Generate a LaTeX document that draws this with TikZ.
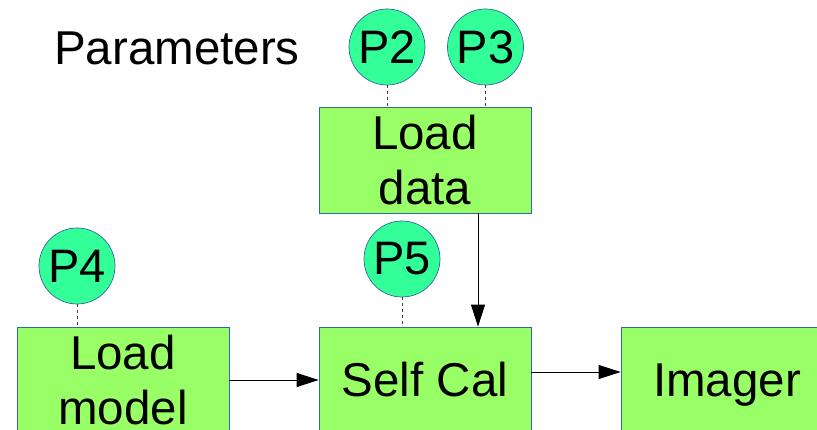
\documentclass[tikz,border=0pt]{standalone}
\usepackage{fontspec}
\setmainfont{Liberation Sans}
\usetikzlibrary{arrows.meta}
\definecolor{boxgreen}{HTML}{99FF66}
\definecolor{parmgreen}{HTML}{33FF99}
\definecolor{edgeblue}{HTML}{3465A4}
\tikzset{
  stage/.style={rectangle, draw=edgeblue, line width=0.7pt, fill=boxgreen,
    minimum width=212pt, minimum height=106pt, inner sep=0pt, align=center,
    font=\fontsize{47.5}{55}\selectfont},
  param/.style={circle, draw=edgeblue, line width=0.7pt, fill=parmgreen,
    minimum size=76pt, inner sep=0pt, font=\fontsize{47}{55}\selectfont},
  link/.style={dash pattern=on 3pt off 3pt, line width=0.8pt, draw=black!75},
  flow/.style={line width=0.9pt, -{Triangle[length=22pt,width=14pt]}}
}
\begin{document}
\begin{tikzpicture}[x=1pt,y=-1pt]
\useasboundingbox (0,0) rectangle (817,430);
\clip (0,0) rectangle (817,430);
\fill[white] (0,0) rectangle (817,430);

% title
\node[anchor=base west, inner sep=0pt, font=\fontsize{47.5}{55}\selectfont] (title) at (54,65) {Parameters};

% processing stages
\node[stage] (loaddata)  at (425,160) {Load\\data};
\node[stage] (loadmodel) at (123,380) {Load\\model};
\node[stage] (selfcal)   at (425,380) {Self Cal};
\node[stage] (imager)    at (727,380) {\raisebox{0pt}[\height][0pt]{Imager}};

% parameters
\node[param] (p2) at (387,47)    {P2};
\node[param] (p3) at (485.5,47)  {P3};
\node[param] (p4) at (77,266)    {P4};
\node[param] (p5) at (402,259)   {P5};

% parameter links
\draw[link] (p2.south) -- (p2.south |- loaddata.north);
\draw[link] (p3.south) -- (p3.south |- loaddata.north);
\draw[link] (p4.south) -- (p4.south |- loadmodel.north);
\draw[link] (p5.south) -- (p5.south |- selfcal.north);

% data flow
\draw[flow] ([xshift=53pt]loaddata.south) -- ([xshift=53pt]selfcal.north);
\draw[flow] (loadmodel.east) -- (selfcal.west);
\draw[flow] ([yshift=8pt]selfcal.east) -- ([yshift=8pt]imager.west);
\end{tikzpicture}
\end{document}
